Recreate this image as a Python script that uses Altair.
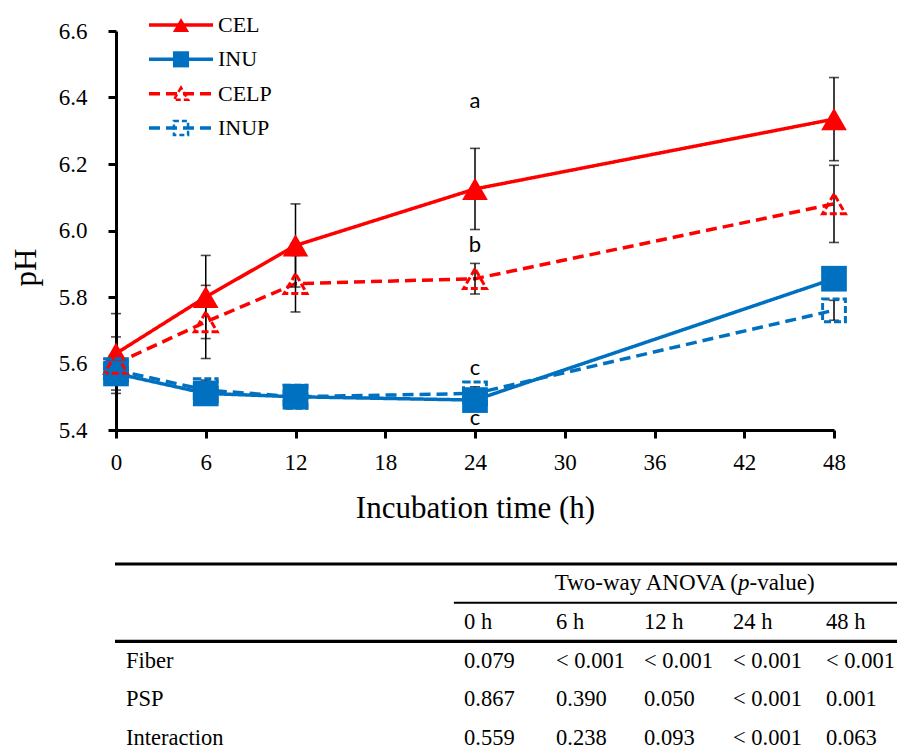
import altair as alt
import pandas as pd

# ---------------- data ----------------
hours = [0, 6, 12, 24, 48]
series = ["CEL", "INU", "CELP", "INUP"]
ph_cel = [5.63, 5.80, 5.955, 6.125, 6.335]
ph_inu = [5.57, 5.51, 5.50, 5.49, 5.855]
ph_celp = [5.60, 5.725, 5.84, 5.855, 6.08]
ph_inup = [5.58, 5.52, 5.50, 5.51, 5.76]
sd_cel = [0.12, 0.125, 0.125, 0.122, 0.125]
sd_inu = [0.02, 0.02, 0.02, 0.02, 0.02]
sd_celp = [0.08, 0.11, 0.085, 0.046, 0.116]
sd_inup = [0.03, 0.03, 0.02, 0.02, 0.03]

letter_text = ["a", "b", "c", "c"]
letter_hour = [24, 24, 24, 24]
letter_ph = [6.39, 5.955, 5.585, 5.435]

x_ticks = [0, 6, 12, 18, 24, 30, 36, 42, 48]
y_ticks = [5.4, 5.6, 5.8, 6.0, 6.2, 6.4, 6.6]

table_cols = ["0 h", "6 h", "12 h", "24 h", "48 h"]
table_rows = ["Fiber", "PSP", "Interaction"]
fiber_p = ["0.079", "< 0.001", "< 0.001", "< 0.001", "< 0.001"]
psp_p = ["0.867", "0.390", "0.050", "< 0.001", "0.001"]
inter_p = ["0.559", "0.238", "0.093", "< 0.001", "0.063"]

# ---------------- tables for the library ----------------
vals = {"CEL": (ph_cel, sd_cel), "INU": (ph_inu, sd_inu),
        "CELP": (ph_celp, sd_celp), "INUP": (ph_inup, sd_inup)}
rows = []
for s in series:
    ph, sd = vals[s]
    for h, v, e in zip(hours, ph, sd):
        rows.append({"series": s, "hour": h, "ph": v, "lo": v - e, "hi": v + e})
df = pd.DataFrame(rows)
letters = pd.DataFrame({"t": letter_text, "hour": letter_hour, "ph": letter_ph})

SERIF = "Liberation Serif"
RED = "#FF0000"
BLUE = "#0070C0"

cscale = alt.Scale(domain=series, range=[RED, BLUE, RED, BLUE])
dscale = alt.Scale(domain=series, range=[[1, 0], [1, 0], [11, 6], [11, 6]])
sscale = alt.Scale(domain=series, range=["triangle-up", "square", "triangle-up", "square"])

xs = alt.Scale(domain=[0, 48], nice=False, zero=False)
ys = alt.Scale(domain=[5.4, 6.6], nice=False, zero=False)

xaxis = alt.Axis(values=x_ticks, title="Incubation time (h)", grid=False,
                 domainColor="black", domainWidth=3, tickColor="black", tickWidth=3,
                 tickSize=8, labelFont=SERIF, labelFontSize=23, labelColor="black",
                 labelPadding=13, titleFont=SERIF, titleFontSize=31,
                 titleFontWeight="normal", titleColor="black", titleY=78,
                 titleBaseline="middle", labelFlush=False)
yaxis = alt.Axis(values=y_ticks, format=".1f", title="pH", grid=False,
                 domainColor="black", domainWidth=3, tickColor="black", tickWidth=3,
                 tickSize=8, labelFont=SERIF, labelFontSize=23, labelColor="black",
                 labelPadding=21, titleFont=SERIF, titleFontSize=31,
                 titleFontWeight="normal", titleColor="black", titleX=-90, titleY=236,
                 titleAngle=270, titleBaseline="middle", titleAlign="center",
                 labelFlush=False)

X = alt.X("hour:Q", scale=xs, axis=xaxis)
Y = alt.Y("ph:Q", scale=ys, axis=yaxis)

lines = alt.Chart(df).mark_line(strokeWidth=3.5).encode(
    x=X, y=Y,
    color=alt.Color("series:N", scale=cscale, legend=None),
    strokeDash=alt.StrokeDash("series:N", scale=dscale, legend=None),
)

err = alt.Chart(df).mark_rule(color="black", strokeWidth=1.5).encode(
    x=X, y=alt.Y("lo:Q", scale=ys, axis=yaxis), y2="hi:Q"
)
caps = alt.Chart(df).transform_fold(["lo", "hi"], as_=["k", "v"]).mark_tick(
    orient="horizontal", size=10, thickness=1.6, color="black"
).encode(x=X, y=alt.Y("v:Q", scale=ys, axis=yaxis))

solid = alt.Chart(df).transform_filter(
    alt.FieldOneOfPredicate(field="series", oneOf=["CEL", "INU"])
).mark_point(filled=True, size=660, opacity=1).encode(
    x=X, y=Y,
    color=alt.Color("series:N", scale=cscale, legend=None),
    shape=alt.Shape("series:N", scale=sscale, legend=None),
)
hollow = alt.Chart(df).transform_filter(
    alt.FieldOneOfPredicate(field="series", oneOf=["CELP", "INUP"])
).mark_point(filled=False, size=520, strokeWidth=3, strokeDash=[7, 3], opacity=1).encode(
    x=X, y=Y,
    color=alt.Color("series:N", scale=cscale, legend=None),
    shape=alt.Shape("series:N", scale=sscale, legend=None),
)

letter_layer = alt.Chart(letters).mark_text(
    font="Lato", fontSize=22, color="black", baseline="middle", align="center"
).encode(x=X, y=Y, text="t:N")

main = alt.layer(lines, err, caps, solid, hollow, letter_layer)

# ---------------- custom legend ----------------
leg_rows = []
for i, s in enumerate(series):
    for lx in (0.0, 1.0):
        leg_rows.append({"series": s, "lx": lx, "row": i})
leg = pd.DataFrame(leg_rows)
leg_mid = pd.DataFrame({"series": series, "lx": [0.5] * 4, "row": list(range(4))})
leg_txt = pd.DataFrame({"series": series, "lx": [1.0] * 4, "row": list(range(4))})

LX = alt.X("lx:Q", scale=alt.Scale(domain=[0, 1], range=[33, 97]), axis=None)
LY = alt.Y("row:Q", scale=alt.Scale(domain=[0, 3], range=[-6, 97]), axis=None)

leg_lines = alt.Chart(leg).mark_line(strokeWidth=3.5).encode(
    x=LX, y=LY,
    color=alt.Color("series:N", scale=cscale, legend=None),
    strokeDash=alt.StrokeDash("series:N", scale=dscale, legend=None),
)
leg_solid = alt.Chart(leg_mid).transform_filter(
    alt.FieldOneOfPredicate(field="series", oneOf=["CEL", "INU"])
).mark_point(filled=True, size=260, opacity=1).encode(
    x=LX, y=LY,
    color=alt.Color("series:N", scale=cscale, legend=None),
    shape=alt.Shape("series:N", scale=sscale, legend=None),
)
leg_hollow = alt.Chart(leg_mid).transform_filter(
    alt.FieldOneOfPredicate(field="series", oneOf=["CELP", "INUP"])
).mark_point(filled=False, size=200, strokeWidth=2.5, strokeDash=[5, 3], opacity=1).encode(
    x=LX, y=LY,
    color=alt.Color("series:N", scale=cscale, legend=None),
    shape=alt.Shape("series:N", scale=sscale, legend=None),
)
leg_text = alt.Chart(leg_txt).mark_text(
    font=SERIF, fontSize=22, color="black", align="left", baseline="middle", dx=5
).encode(x=LX, y=LY, text="series:N")
legend = alt.layer(leg_lines, leg_solid, leg_hollow, leg_text)

# ---------------- ANOVA table ----------------
cells = []
for j, c in enumerate(table_cols):
    cells.append({"col": j + 1, "row": 1.5, "t": c})
for i, (name, pv) in enumerate(zip(table_rows, [fiber_p, psp_p, inter_p])):
    cells.append({"col": 0, "row": 2.5 + i, "t": name})
    for j, v in enumerate(pv):
        cells.append({"col": j + 1, "row": 2.5 + i, "t": v})
cells = pd.DataFrame(cells)
rules = pd.DataFrame({"row": [0, 1, 2], "col": [-1, 0.97, -1], "c2": [6, 6, 6], "w": [3.2, 2, 3.2]})
hdr = pd.DataFrame({"col": [4], "row": [0.5]})

TFS = 22.5
TX = alt.X("col:Q", scale=alt.Scale(domain=[-1, 0, 1, 2, 3, 4, 5, 6],
                                   range=[-1, 10, 348, 440, 528, 617, 710, 790]), axis=None)
TY = alt.Y("row:Q", scale=alt.Scale(domain=[0, 4.5], range=[533, 707]), axis=None)

t_rules = alt.Chart(rules).mark_rule(color="black").encode(
    x=TX, x2="c2:Q", y=TY, size=alt.Size("w:Q", scale=None, legend=None)
)
t_cells = alt.Chart(cells).mark_text(
    font=SERIF, fontSize=TFS, color="black", align="left", baseline="middle"
).encode(x=TX, y=TY, text="t:N")
h1 = alt.Chart(hdr).mark_text(font=SERIF, fontSize=23, color="black", align="right",
                              baseline="middle", dx=5).encode(x=TX, y=TY, text=alt.value("Two-way ANOVA ("))
h2 = alt.Chart(hdr).mark_text(font=SERIF, fontSize=23, color="black", align="left",
                              baseline="middle", dx=5, fontStyle="italic").encode(x=TX, y=TY, text=alt.value("p"))
h3 = alt.Chart(hdr).mark_text(font=SERIF, fontSize=23, color="black", align="left",
                              baseline="middle", dx=16.5).encode(x=TX, y=TY, text=alt.value("-value)"))
table = alt.layer(t_rules, t_cells, h1, h2, h3)

chart = alt.layer(main, legend, table).resolve_scale(
    x="independent", y="independent"
).properties(
    width=718, height=399,
    padding={"left": 108, "top": 23, "right": 63, "bottom": 326},
    autosize=alt.AutoSizeParams(type="none"),
    background="white",
).configure_view(stroke=None)

chart.save("out.html", embed_options={"renderer": "svg", "actions": False})
